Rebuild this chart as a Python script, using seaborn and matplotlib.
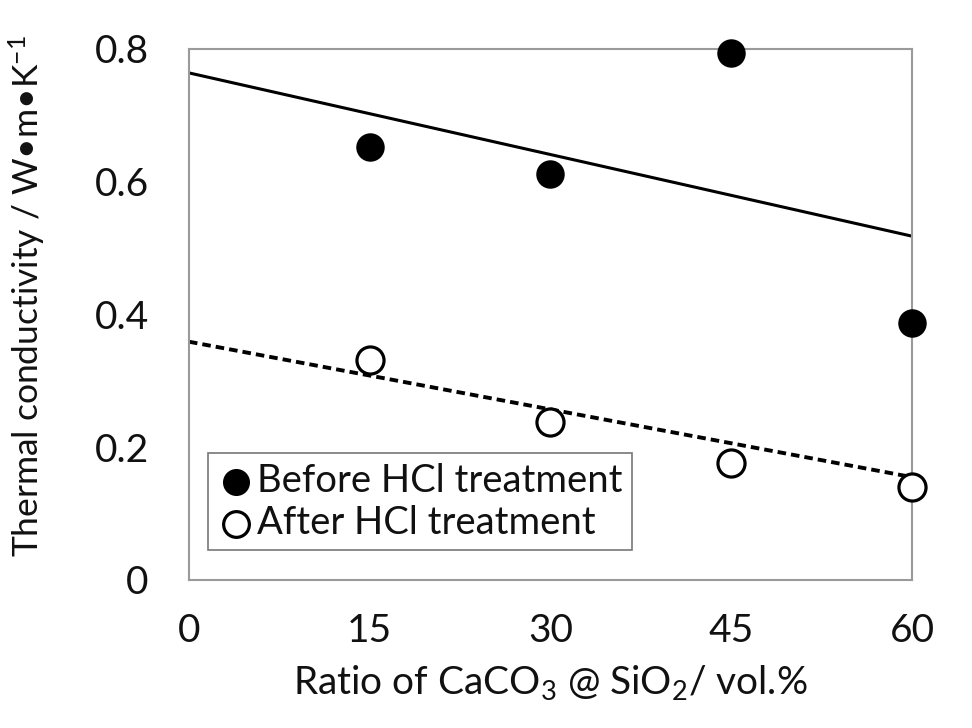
import matplotlib
matplotlib.use("Agg")
import matplotlib.pyplot as plt
import numpy as np
import seaborn as sns

# values
ratio = [15, 30, 45, 60]
before_hcl = [0.652, 0.612, 0.794, 0.387]
after_hcl = [0.331, 0.238, 0.176, 0.140]

trend_x = [0, 60]
before_trend = [0.764, 0.518]
after_trend = [0.359, 0.155]

x_ticks = [0, 15, 30, 45, 60]
y_ticks = [0, 0.2, 0.4, 0.6, 0.8]
y_tick_labels = ["0", "0.2", "0.4", "0.6", "0.8"]

sns.set_style("white")
plt.rcParams["font.family"] = ["Lato", "DejaVu Sans"]
plt.rcParams["mathtext.fontset"] = "custom"
plt.rcParams["mathtext.rm"] = "Lato"
plt.rcParams["mathtext.it"] = "Lato"
plt.rcParams["mathtext.default"] = "rm"

txt = "#111111"

fig = plt.figure(figsize=(9.72, 7.28), dpi=100)
ax = fig.add_axes([0.1944, 0.2033, 0.7439, 0.7294])

sns.lineplot(x=trend_x, y=before_trend, ax=ax, color="black", lw=2.2)
sns.lineplot(x=trend_x, y=after_trend, ax=ax, color="black", lw=2.8,
             linestyle=(0, (2.2, 1.3)))

sns.scatterplot(x=ratio, y=before_hcl, ax=ax, s=420, color="black",
                edgecolor="black", linewidth=0, zorder=5, clip_on=False,
                label="Before HCl treatment")
sns.scatterplot(x=ratio, y=after_hcl, ax=ax, s=380, facecolor="white",
                edgecolor="black", linewidth=2.3, zorder=5, clip_on=False,
                label="After HCl treatment")

ax.set_xlim(0, 60)
ax.set_ylim(0, 0.8)
ax.set_xticks(x_ticks)
ax.set_xticklabels([str(v) for v in x_ticks])
ax.set_yticks(y_ticks)
ax.set_yticklabels(y_tick_labels)
ax.set_yticks(np.arange(0.1, 0.8, 0.2), minor=True)

for side in ax.spines.values():
    side.set_color("#9a9a9a")
    side.set_linewidth(1.5)

ax.tick_params(axis="x", direction="out", length=9, width=1.2,
               color="#9a9a9a", pad=15, labelsize=28, labelcolor=txt)
ax.tick_params(axis="y", which="both", direction="in", length=9, width=1.2,
               color="#9a9a9a", pad=29, labelsize=28, labelcolor=txt)

ax.set_xlabel(r"Ratio of CaCO$_3$ @ SiO$_2$/ vol.%", fontsize=28,
              color=txt, labelpad=10)
ax.set_ylabel("Thermal conductivity / W•m•K$^{-1}$",
              fontsize=25.5, color=txt)
ax.yaxis.set_label_coords(-0.195, 0.535)

leg = ax.legend(loc="lower left", bbox_to_anchor=(0.026, 0.056),
                borderaxespad=0, fontsize=27.5, frameon=True, fancybox=False,
                handletextpad=0.05, handlelength=1.0, borderpad=0.25,
                labelspacing=0.15, markerscale=0.95)
leg.get_frame().set_edgecolor("#555555")
leg.get_frame().set_linewidth(1.2)
for t in leg.get_texts():
    t.set_color(txt)

fig.savefig("out.png", dpi=100)
